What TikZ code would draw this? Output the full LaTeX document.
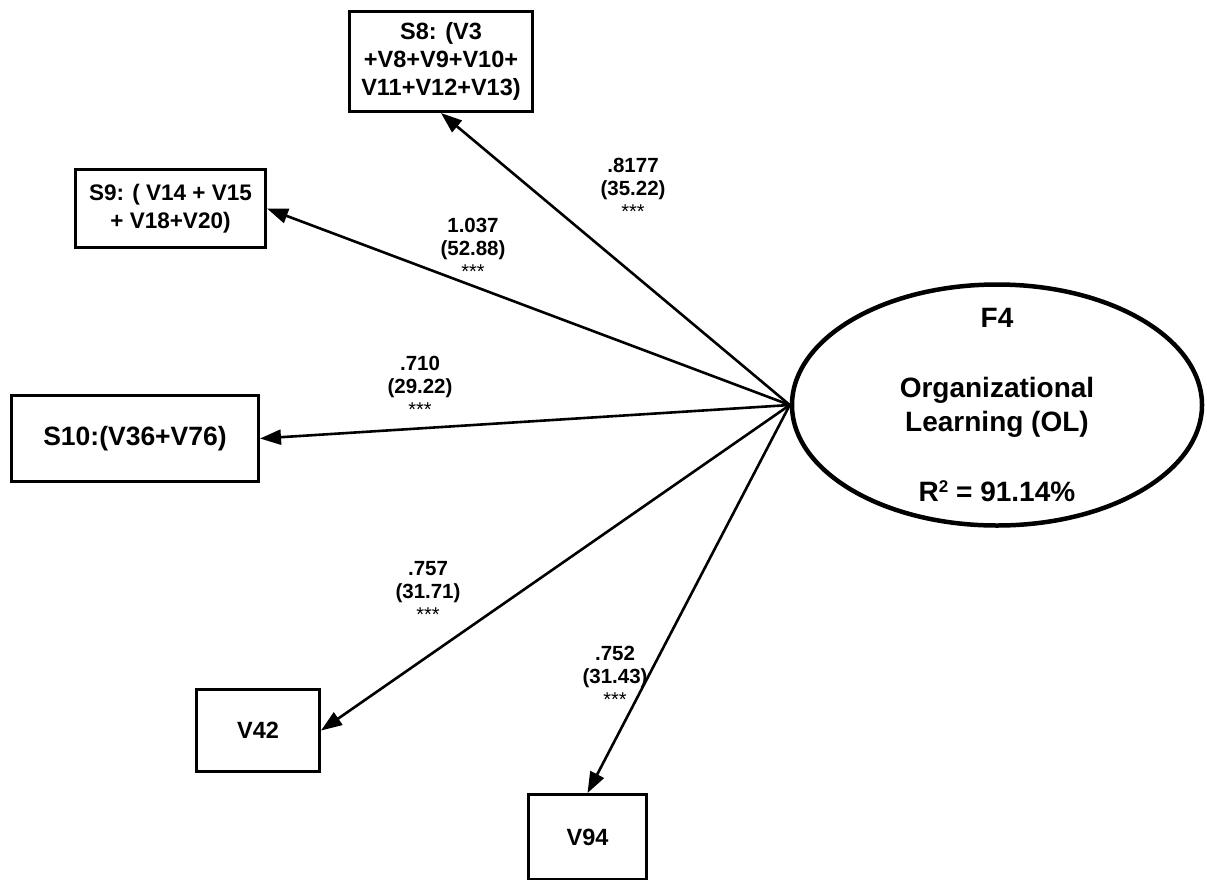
\documentclass[tikz,border=0pt]{standalone}
\usepackage{fontspec}
\setmainfont{Liberation Sans}
\usetikzlibrary{arrows.meta,shapes.geometric}
\newcommand{\stars}{{\mdseries\fontsize{20}{20}\selectfont ***}}

\begin{document}
\begin{tikzpicture}[x=1pt, y=-1pt,
  font=\bfseries, >={Triangle[length=21pt,width=15pt]},
  obs/.style={draw, line width=3pt, align=center, inner sep=2pt,
              font=\fontsize{23.5}{28}\selectfont\bfseries},
  latent/.style={draw, ellipse, line width=4.5pt, minimum width=410pt,
                 minimum height=241pt},
  ltext/.style={align=center, font=\fontsize{28}{34}\selectfont\bfseries},
  ld/.style={->, line width=2.6pt},
  lbl/.style={align=center, font=\fontsize{20.5}{23}\selectfont\bfseries}]
  \useasboundingbox (0,0) rectangle (1207,879);
  % construct
  \node[latent, label={[ltext]center:{F4\\[36pt]Organizational\\Learning (OL)\\[36pt]R\raisebox{9pt}{\fontsize{17}{17}\selectfont 2} = 91.14\%}}]
     (f4) at (997,405) {};
  % indicators
  \node[obs, minimum width=183pt, minimum height=100pt] (s8) at (441,61.5)
     {S8: (V3\\+V8+V9+V10+\\V11+V12+V13)};
  \node[obs, minimum width=190pt, minimum height=78pt,
        font=\fontsize{22.5}{28}\selectfont\bfseries] (s9) at (170.5,208.5)
     {S9: ( V14 + V15\\+ V18+V20)};
  \node[obs, minimum width=247pt, minimum height=86pt,
        font=\fontsize{26.5}{30}\selectfont\bfseries] (s10) at (135,438.5)
     {S10:(V36+V76)};
  \node[obs, minimum width=123pt, minimum height=82pt] (v42) at (258,730.5) {V42};
  \node[obs, minimum width=118pt, minimum height=85pt] (v94) at (587.5,837) {V94};
  % loadings
  \foreach \b in {s8.south, s9.east, s10.east, v42.east, v94.north}
    \draw[ld] (f4.west) -- (\b);
  \node[lbl] (l8)  at (633,188) {.8177\\(35.22)\\\stars};
  \node[lbl] (l9)  at (473,248) {1.037\\(52.88)\\\stars};
  \node[lbl] (l10) at (420,386) {.710\\(29.22)\\\stars};
  \node[lbl] (l42) at (428,591) {.757\\(31.71)\\\stars};
  \node[lbl] (l94) at (615,676) {.752\\(31.43)\\\stars};
\end{tikzpicture}
\end{document}
